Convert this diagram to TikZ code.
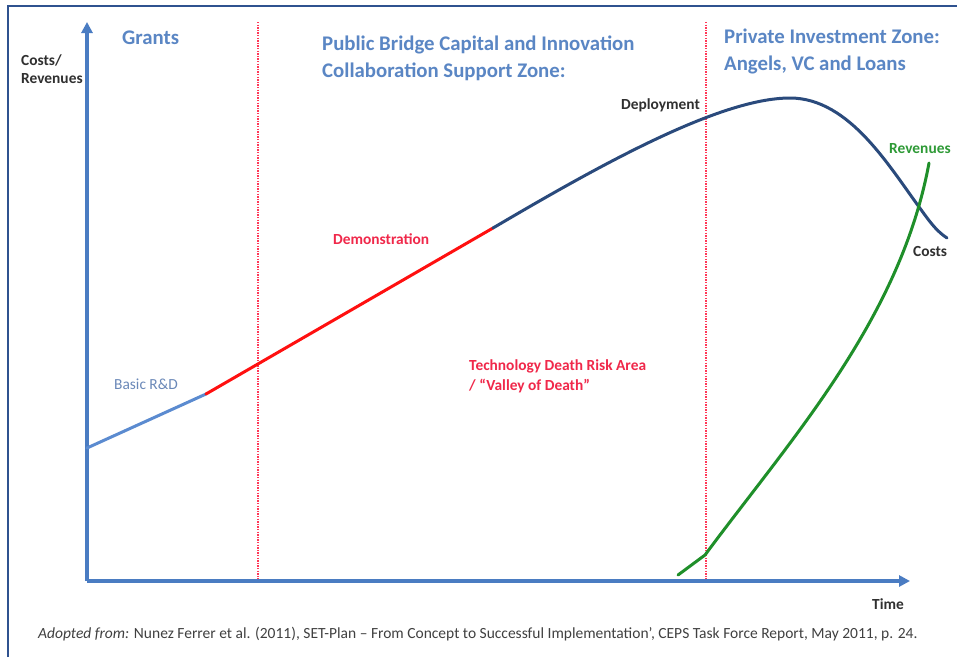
\documentclass[tikz,border=0pt]{standalone}
\usepackage{fontspec}
\setmainfont{Carlito}
\usetikzlibrary{arrows.meta}
\definecolor{frameblue}{HTML}{2F528F}
\definecolor{axisblue}{HTML}{4A7CC2}
\definecolor{titleblue}{HTML}{5A86C4}
\definecolor{rdblue}{HTML}{5B8BD0}
\definecolor{rdtext}{HTML}{6A88B8}
\definecolor{curvered}{HTML}{FF1010}
\definecolor{textred}{HTML}{F0284A}
\definecolor{navyline}{HTML}{2A4A7C}
\definecolor{revgreen}{HTML}{1F8F2A}
\definecolor{revtext}{HTML}{2E9A36}
\definecolor{darktext}{HTML}{303030}
\definecolor{dotred}{HTML}{FF3858}
\definecolor{captext}{HTML}{404040}
\begin{document}
\begin{tikzpicture}[x=1pt,y=-1pt,
  title/.style={font=\fontsize{20.8}{24}\selectfont\bfseries, text=titleblue, anchor=base west, inner sep=0pt},
  lbl/.style={font=\fontsize{15.4}{18}\selectfont\bfseries, anchor=base west, inner sep=0pt},
  axisline/.style={axisblue, line width=3.5pt, -{Triangle[length=11pt,width=11pt]}},
  zoneline/.style={dotred, line width=2.2pt, dash pattern=on 1.3pt off 1.3pt},
  curve/.style={line width=3pt, line cap=round, line join=round}]
\useasboundingbox (0,0) rectangle (957,657);
\fill[white] (0,0) rectangle (957,657);
% frame
\draw[frameblue, line width=2.2pt] (8,657) -- (8,6) -- (957,6);
% zone separators
\coordinate (z1top) at (258,22); \coordinate (z1bot) at (258,581);
\coordinate (z2top) at (706,22); \coordinate (z2bot) at (706,581);
\draw[zoneline] (z1top) -- (z1bot);
\draw[zoneline] (z2top) -- (z2bot);
% axes
\coordinate (origin) at (87,581);
\coordinate (ytip) at (87,22);
\coordinate (xtip) at (910,581);
\draw[axisline] (origin) -- (ytip);
\draw[axisline] (origin) -- (xtip);
% cost curve
\coordinate (c0) at (87,448);
\coordinate (c1) at (206,394);
\coordinate (c2) at (493,228);
\coordinate (peak) at (790,98);
\coordinate (cx) at (922,211);
\coordinate (c3) at (947,238);
\draw[curve, rdblue] (c0) -- (c1);
\draw[curve, curvered] (c1) -- (c2);
\draw[curve, navyline] (c2) .. controls (600,165) and (720,98) .. (peak)
  .. controls (850,98) and (890,168) .. (cx)
  .. controls (932,225) and (938,232) .. (c3);
% revenue curve
\coordinate (r0) at (678,575);
\coordinate (r1) at (705,555);
\coordinate (r2) at (929,163);
\draw[curve, revgreen] (r0) -- (r1) .. controls (790,440) and (900,320) .. (r2);
% texts
\node[title] (grants) at (122,44) {Grants};
\node[title] (public1) at (322,50) {Public Bridge Capital and Innovation};
\node[title] (public2) at (322,77) {Collaboration Support Zone:};
\node[title] (private1) at (724,43) {Private Investment Zone:};
\node[title] (private2) at (724,70) {Angels, VC and Loans};
\node[lbl, text=darktext] (ylab1) at (21,65) {Costs/};
\node[lbl, text=darktext] (ylab2) at (21,83) {Revenues};
\node[lbl, text=darktext] (deploy) at (621,109) {Deployment};
\node[lbl, text=revtext] (revenues) at (889,153) {Revenues};
\node[lbl, text=darktext] (costs) at (913,256) {Costs};
\node[lbl, text=textred] (demo) at (333,244) {Demonstration};
\node[lbl, text=textred] (death1) at (469,370) {Technology Death Risk Area};
\node[lbl, text=textred] (death2) at (469,390) {/ “Valley of Death”};
\node[lbl, text=rdtext, font=\fontsize{15.4}{18}\selectfont] (basic) at (114,389) {Basic R\&D};
\node[lbl, text=darktext] (time) at (872,609) {Time};
\node[anchor=base west, inner sep=0pt, text=captext, font=\fontsize{15.5}{18}\selectfont] (caption) at (38,638) {\textit{Adopted from:} Nunez Ferrer et al. (2011), SET-Plan – From Concept to Successful Implementation’, CEPS Task Force Report, May 2011, p. 24.};
\end{tikzpicture}
\end{document}
